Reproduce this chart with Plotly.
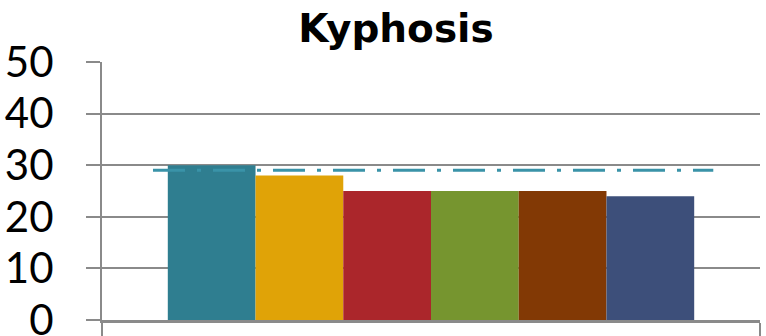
import plotly.graph_objects as go

# Kyphosis group values (one bar per series) and the reference level
series_names = ["Series 1", "Series 2", "Series 3", "Series 4", "Series 5", "Series 6"]
series_values = [30, 28, 25, 25, 25, 24]
series_colors = ["#2F7E90", "#E0A307", "#AB262B", "#76952F", "#823905", "#3D4F7A"]
reference_level = 29
category = ["Kyphosis"]
y_ticks = [0, 10, 20, 30, 40, 50]

GRID = "#8A8A8A"

fig = go.Figure()
for name, val, col in zip(series_names, series_values, series_colors):
    fig.add_trace(go.Bar(
        x=category, y=[val], name=name,
        marker=dict(color=col, line=dict(width=0)),
    ))

# dash-dot reference line across the bar group
fig.add_shape(
    type="line", xref="x domain", yref="y",
    x0=0.0775, x1=0.929, y0=reference_level, y1=reference_level,
    line=dict(color="#3A93A8", width=3, dash="32px,12px,4px,12px"),
    layer="above",
)

fig.update_layout(
    width=766, height=336,
    margin=dict(l=102, r=6, t=62, b=16, autoexpand=False),
    paper_bgcolor="white", plot_bgcolor="white",
    barmode="group", bargap=0.2, bargroupgap=0,
    showlegend=False,
    title=dict(
        text="<b>Kyphosis</b>",
        font=dict(family="DejaVu Sans", size=39, color="black"),
        x=396 / 766, xanchor="center",
        y=1 - 28 / 336, yanchor="middle", yref="container",
        automargin=False,
    ),
    xaxis=dict(
        type="category", showticklabels=False, automargin=False,
        showline=True, linecolor=GRID, linewidth=3,
        ticks="outside", ticklen=16, tickwidth=2, tickcolor=GRID,
        tickson="boundaries", showgrid=False, zeroline=False,
    ),
    yaxis=dict(
        range=[0, 50], tickvals=y_ticks, automargin=False,
        showline=True, linecolor=GRID, linewidth=2,
        ticks="outside", ticklen=14, tickwidth=2, tickcolor=GRID,
        showgrid=True, gridcolor=GRID, gridwidth=2,
        zeroline=False,
        tickfont=dict(family="Lato", size=42, color="black"),
        ticklabelstandoff=24,
        ticklabeloverflow="allow",
    ),
)

fig.write_html("out.html")
